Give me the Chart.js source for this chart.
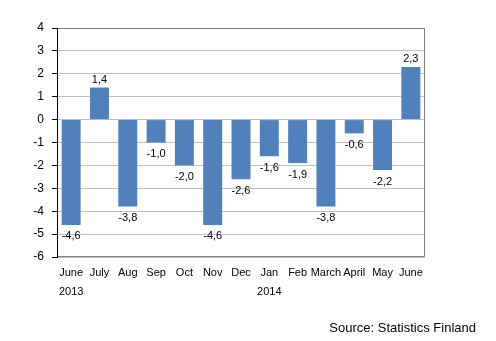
<!DOCTYPE html>
<html>
<head>
<meta charset="utf-8">
<script src="https://cdn.jsdelivr.net/npm/chart.js@4/dist/chart.umd.min.js"></script>
<style>
  html, body { margin: 0; padding: 0; background: #fff; }
  #wrap { width: 496px; height: 341px; position: relative; }
</style>
</head>
<body>
<div id="wrap"><canvas id="chart"></canvas></div>
<script>
const months = ['June', 'July', 'Aug', 'Sep', 'Oct', 'Nov', 'Dec', 'Jan', 'Feb', 'March', 'April', 'May', 'June'];
const years = ['2013', '', '', '', '', '', '', '2014', '', '', '', '', ''];
const values = [-4.6, 1.4, -3.8, -1.0, -2.0, -4.6, -2.6, -1.6, -1.9, -3.8, -0.6, -2.2, 2.3];
const sourceText = 'Source: Statistics Finland';

const fmt = (v) => v.toFixed(1).replace('.', ',');

const valueLabels = {
  id: 'valueLabels',
  afterDatasetsDraw(chart) {
    const ctx = chart.ctx;
    const meta = chart.getDatasetMeta(0);
    ctx.save();
    ctx.font = '11px "Liberation Sans", Arial, sans-serif';
    ctx.fillStyle = '#000';
    ctx.textAlign = 'center';
    meta.data.forEach((bar, i) => {
      const v = values[i];
      if (v >= 0) {
        ctx.textBaseline = 'alphabetic';
        ctx.fillText(fmt(v), bar.x, bar.y - 5);
      } else {
        ctx.textBaseline = 'top';
        ctx.fillText(fmt(v), bar.x, bar.y + 6);
      }
    });
    ctx.restore();
  }
};

const frame = {
  id: 'frame',
  afterDraw(chart) {
    const { ctx, chartArea: a } = chart;
    ctx.save();
    ctx.strokeStyle = '#808080';
    ctx.lineWidth = 1;
    ctx.beginPath();
    ctx.moveTo(a.left, a.top + 0.5);
    ctx.lineTo(a.right - 0.5, a.top + 0.5);
    ctx.lineTo(a.right - 0.5, a.bottom - 0.5);
    ctx.lineTo(a.left, a.bottom - 0.5);
    ctx.stroke();
    // left axis on top
    ctx.strokeStyle = '#000';
    ctx.beginPath();
    ctx.moveTo(a.left + 0.5, a.top);
    ctx.lineTo(a.left + 0.5, a.bottom);
    ctx.stroke();
    // source
    ctx.font = '13px "Liberation Sans", Arial, sans-serif';
    ctx.fillStyle = '#000';
    ctx.textAlign = 'right';
    ctx.textBaseline = 'alphabetic';
    ctx.fillText(sourceText, 476, 332);
    ctx.restore();
  }
};

chart = new Chart(document.getElementById('chart'), {
  type: 'bar',
  data: {
    labels: months.map((m, i) => years[i] ? [m, years[i]] : m),
    datasets: [{
      data: values,
      backgroundColor: '#4f81bd',
      barPercentage: 0.67,
      categoryPercentage: 1
    }]
  },
  options: {
    responsive: true,
    maintainAspectRatio: false,
    animation: false,
    layout: { padding: { top: 28, right: 71, left: 0, bottom: 0 } },
    plugins: {
      legend: { display: false },
      tooltip: { enabled: false }
    },
    scales: {
      x: {
        grid: { display: false, drawTicks: false },
        border: { display: false },
        ticks: {
          color: '#000',
          padding: 6,
          maxRotation: 0,
          autoSkip: false,
          font: { family: '"Liberation Sans", Arial, sans-serif', size: 11, lineHeight: 1.75 }
        },
        afterFit(scale) { scale.height = 84; }
      },
      y: {
        min: -6,
        max: 4,
        grid: { color: '#c0c0c0', tickColor: '#000', tickLength: 5 },
        border: { display: true, color: '#000' },
        ticks: {
          stepSize: 1,
          color: '#000',
          padding: 8,
          font: { family: '"Liberation Sans", Arial, sans-serif', size: 12 },
          callback: (v) => String(v)
        },
        afterFit(scale) { scale.width = 57; }
      }
    }
  },
  plugins: [valueLabels, frame]
});
</script>
</body>
</html>
